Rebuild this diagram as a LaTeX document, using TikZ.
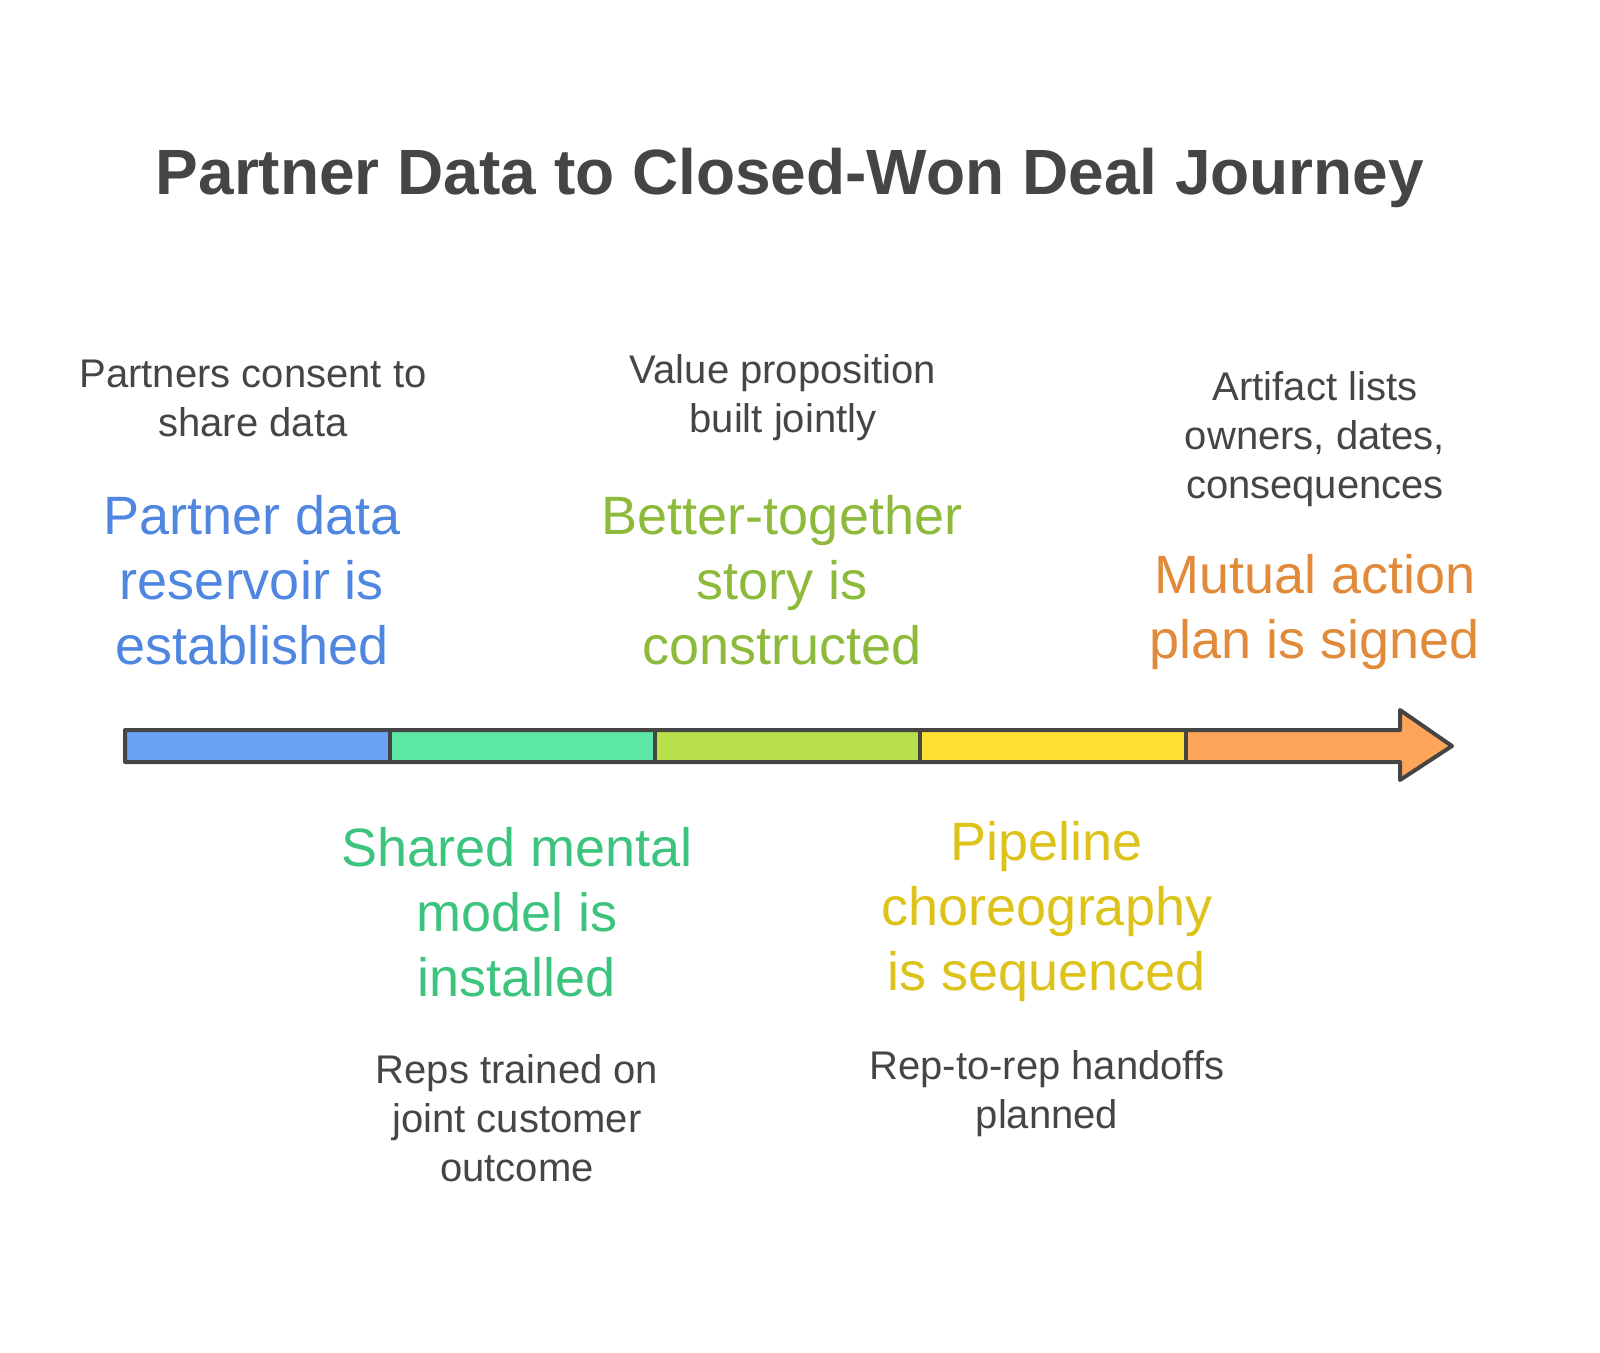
\documentclass[tikz,border=0pt]{standalone}
\usepackage{fontspec}
\setmainfont{Liberation Sans}
\begin{document}
\begin{tikzpicture}[x=1pt,y=-1pt,
  ttl/.style={align=center,font=\fontsize{54}{65}\selectfont,inner sep=0},
  dsc/.style={align=center,font=\fontsize{40}{49}\selectfont,text=dgray,inner sep=0}]
\definecolor{dgray}{HTML}{454545}
\definecolor{cb}{HTML}{6AA3F5}\definecolor{cg}{HTML}{5EE8A8}\definecolor{cl}{HTML}{B8E04A}
\definecolor{cy}{HTML}{FFE030}\definecolor{co}{HTML}{FFA55A}
\definecolor{tb}{HTML}{4F86E0}\definecolor{tg}{HTML}{3CC47F}\definecolor{tl}{HTML}{8DBA3A}
\definecolor{ty}{HTML}{DDC21A}\definecolor{to}{HTML}{E08A3A}
\node[font=\bfseries\fontsize{64}{70}\selectfont,text=dgray] (title) at (790,178) {Partner Data to Closed-Won Deal Journey};
\fill[cb] (125,730) rectangle (390,762);
\fill[cg] (390,730) rectangle (655,762);
\fill[cl] (655,730) rectangle (920,762);
\fill[cy] (920,730) rectangle (1186,762);
\fill[co] (1186,730) -- (1400,730) -- (1400,710) -- (1452,746) -- (1400,780) -- (1400,762) -- (1186,762) -- cycle;
\draw[dgray,line width=4,line join=round] (125,730) -- (1400,730) -- (1400,710) -- (1452,746) -- (1400,780) -- (1400,762) -- (125,762) -- cycle;
\foreach \x in {390,655,920,1186} \draw[dgray,line width=4] (\x,730) -- (\x,762);
\node[ttl,text=tb] (t1) at (252,580) {Partner data\\reservoir is\\established};
\node[dsc] (d1) at (253,398) {Partners consent to\\share data};
\node[ttl,text=tg] (t2) at (517,912) {Shared mental\\model is\\installed};
\node[dsc] (d2) at (517,1118) {Reps trained on\\joint customer\\outcome};
\node[ttl,text=tl] (t3) at (782,580) {Better-together\\story is\\constructed};
\node[dsc] (d3) at (783,398) {Value proposition\\built jointly};
\node[ttl,text=ty] (t4) at (1047,912) {Pipeline\\choreography\\is sequenced};
\node[dsc] (d4) at (1047,1094) {Rep-to-rep handoffs\\planned};
\node[ttl,text=to] (t5) at (1315,612) {Mutual action\\plan is signed};
\node[dsc] (d5) at (1315,439) {Artifact lists\\owners, dates,\\consequences};
\pgfresetboundingbox
\useasboundingbox (0,0) rectangle (1600,1352);
\end{tikzpicture}
\end{document}
